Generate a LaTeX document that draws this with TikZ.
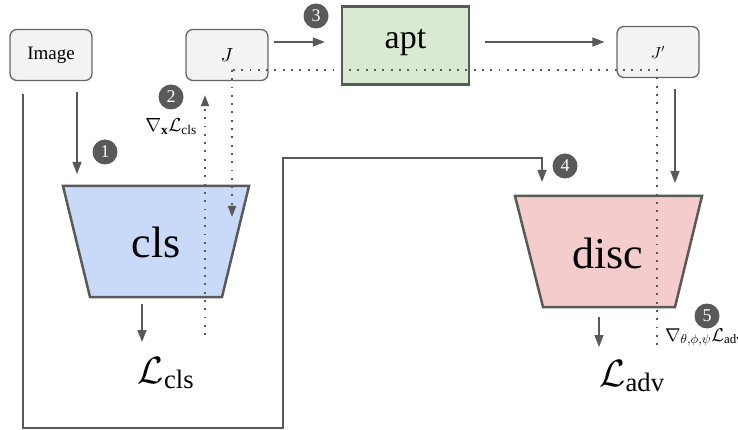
\documentclass[tikz,border=0pt]{standalone}
\usepackage{fontspec}
\setmainfont{Liberation Serif}
% scalable math fonts
\DeclareFontShape{OML}{cmm}{m}{it}{<->cmmi10}{}
\DeclareFontShape{OMS}{cmsy}{m}{n}{<->cmsy10}{}
\usetikzlibrary{calc,arrows.meta}
\definecolor{boxgray}{HTML}{F3F3F3}
\definecolor{edgegray}{HTML}{666666}
\definecolor{linegray}{HTML}{595959}
\definecolor{aptgreen}{HTML}{D9EAD3}
\definecolor{clsblue}{HTML}{C9DAF8}
\definecolor{discred}{HTML}{F4CCCC}
\tikzset{
  box/.style={draw=edgegray,fill=boxgray,line width=1.3pt,rounded corners=7pt,
    minimum width=82pt,minimum height=51pt,inner sep=0pt},
  aptbox/.style={draw=linegray,fill=aptgreen,line width=2.4pt,minimum width=127pt,
    minimum height=78pt,inner sep=0pt,font=\fontsize{34}{36}\selectfont,
    text height=20pt,text depth=14pt},
  netshape/.style={draw=linegray,line width=2.5pt,line join=miter},
  arr/.style={draw=linegray,line width=1.4pt,-{Triangle[length=12pt,width=9pt]}},
  dots/.style={draw=linegray,line width=1.9pt,dash pattern=on 1.9pt off 6.4pt},
  dotarr/.style={-{Triangle[length=11pt,width=8pt]}},
  num/.style={circle,fill=linegray,text=white,minimum size=25pt,inner sep=0pt,
    font=\fontsize{18}{18}\selectfont},
  biglbl/.style={inner sep=0pt,anchor=base,font=\fontsize{44}{46}\selectfont},
  losslbl/.style={inner sep=0pt,anchor=base,font=\fontsize{38}{40}\selectfont},
  gradlbl/.style={inner sep=0pt,font=\fontsize{19}{21}\selectfont}
}
\begin{document}
\begin{tikzpicture}[x=1pt,y=-1pt]
  \useasboundingbox (0,0) rectangle (738,430);
  % boxes
  \node[box,font=\fontsize{19}{21}\selectfont] (img) at (51,55) {Image};
  \node[box,font=\fontsize{19}{21}\selectfont] (J) at (227,55) {$J$};
  \node[aptbox] (apt) at (405.5,45.5) {apt};
  \node[box,font=\fontsize{16}{18}\selectfont] (Jp) at (658,52) {$J'$};
  % networks
  \fill[clsblue] (63,186) -- (249,186) -- (222,297) -- (90,297) -- cycle;
  \draw[netshape] (63,186) -- (249,186) -- (222,297) -- (90,297) -- cycle;
  \coordinate (clsN) at (156,186);
  \coordinate (clsS) at (156,297);
  \node[biglbl] (cls) at (156,258) {cls};
  \fill[discred] (515,196) -- (702,196) -- (675,307) -- (543,307) -- cycle;
  \draw[netshape] (515,196) -- (702,196) -- (675,307) -- (543,307) -- cycle;
  \coordinate (discN) at (608,196);
  \coordinate (discS) at (609,307);
  \node[biglbl] (disc) at (608,268) {disc};
  % losses
  \node[losslbl] (Lcls) at (166,383) {$\mathcal{L}_{\mathrm{cls}}$};
  \node[losslbl] (Ladv) at (632,386) {$\mathcal{L}_{\mathrm{adv}}$};
  % forward arrows
  \draw[arr,shorten <=5pt,shorten >=16pt] ([yshift=13pt]J.east) -- ([yshift=3.5pt]apt.west);
  \draw[arr,shorten <=15pt,shorten >=12pt] ([yshift=3.5pt]apt.east) -- ([yshift=10pt]Jp.west);
  \draw[arr,shorten <=11pt,shorten >=12pt] ([xshift=26pt]img.south) -- ([xshift=26pt]img.south |- clsN);
  \draw[arr,shorten <=13pt,shorten >=14pt] ([xshift=-28pt]img.south) -- ++(0,347) -| ++(260,-270) -| ([xshift=-66pt]discN);
  \draw[arr,shorten <=11pt,shorten >=13pt] ([xshift=17pt]Jp.south) -- ([xshift=17pt]Jp.south |- discN);
  \draw[arr,shorten <=7pt] ([xshift=-14pt]clsS) -- ++(0,45);
  \draw[arr,shorten <=10pt] ([xshift=-10pt]discS) -- ++(0,40);
  % gradient paths
  \coordinate (Jdot) at ($(J.center)+(5,15)$);
  \coordinate (Jpdot) at ($(Jp.center)+(-1,18)$);
  \draw[dots] ($(Jpdot)+(0,275)$) -- (Jpdot) -- (Jdot);
  \draw[dots,dotarr] (Jdot) -- ++(0,147);
  \draw[dots,dotarr,shorten >=14pt] ([xshift=-22pt]J.south |- 0,335) -- ([xshift=-22pt]J.south);
  \node[gradlbl,anchor=base] (gcls) at (171,132) {$\nabla_{\mathbf{x}}\mathcal{L}_{\mathrm{cls}}$};
  \node[gradlbl,anchor=base west,font=\fontsize{18.5}{20}\selectfont] (gadv) at (665,341) {$\nabla_{\theta,\phi,\psi}\mathcal{L}_{\mathrm{adv}}$};
  % step numbers
  \foreach \n/\x/\y in {1/105/152,2/171/97,3/316/16,4/565/166,5/707/316}
    \node[num] (n\n) at (\x,\y) {\n};
\end{tikzpicture}
\end{document}
